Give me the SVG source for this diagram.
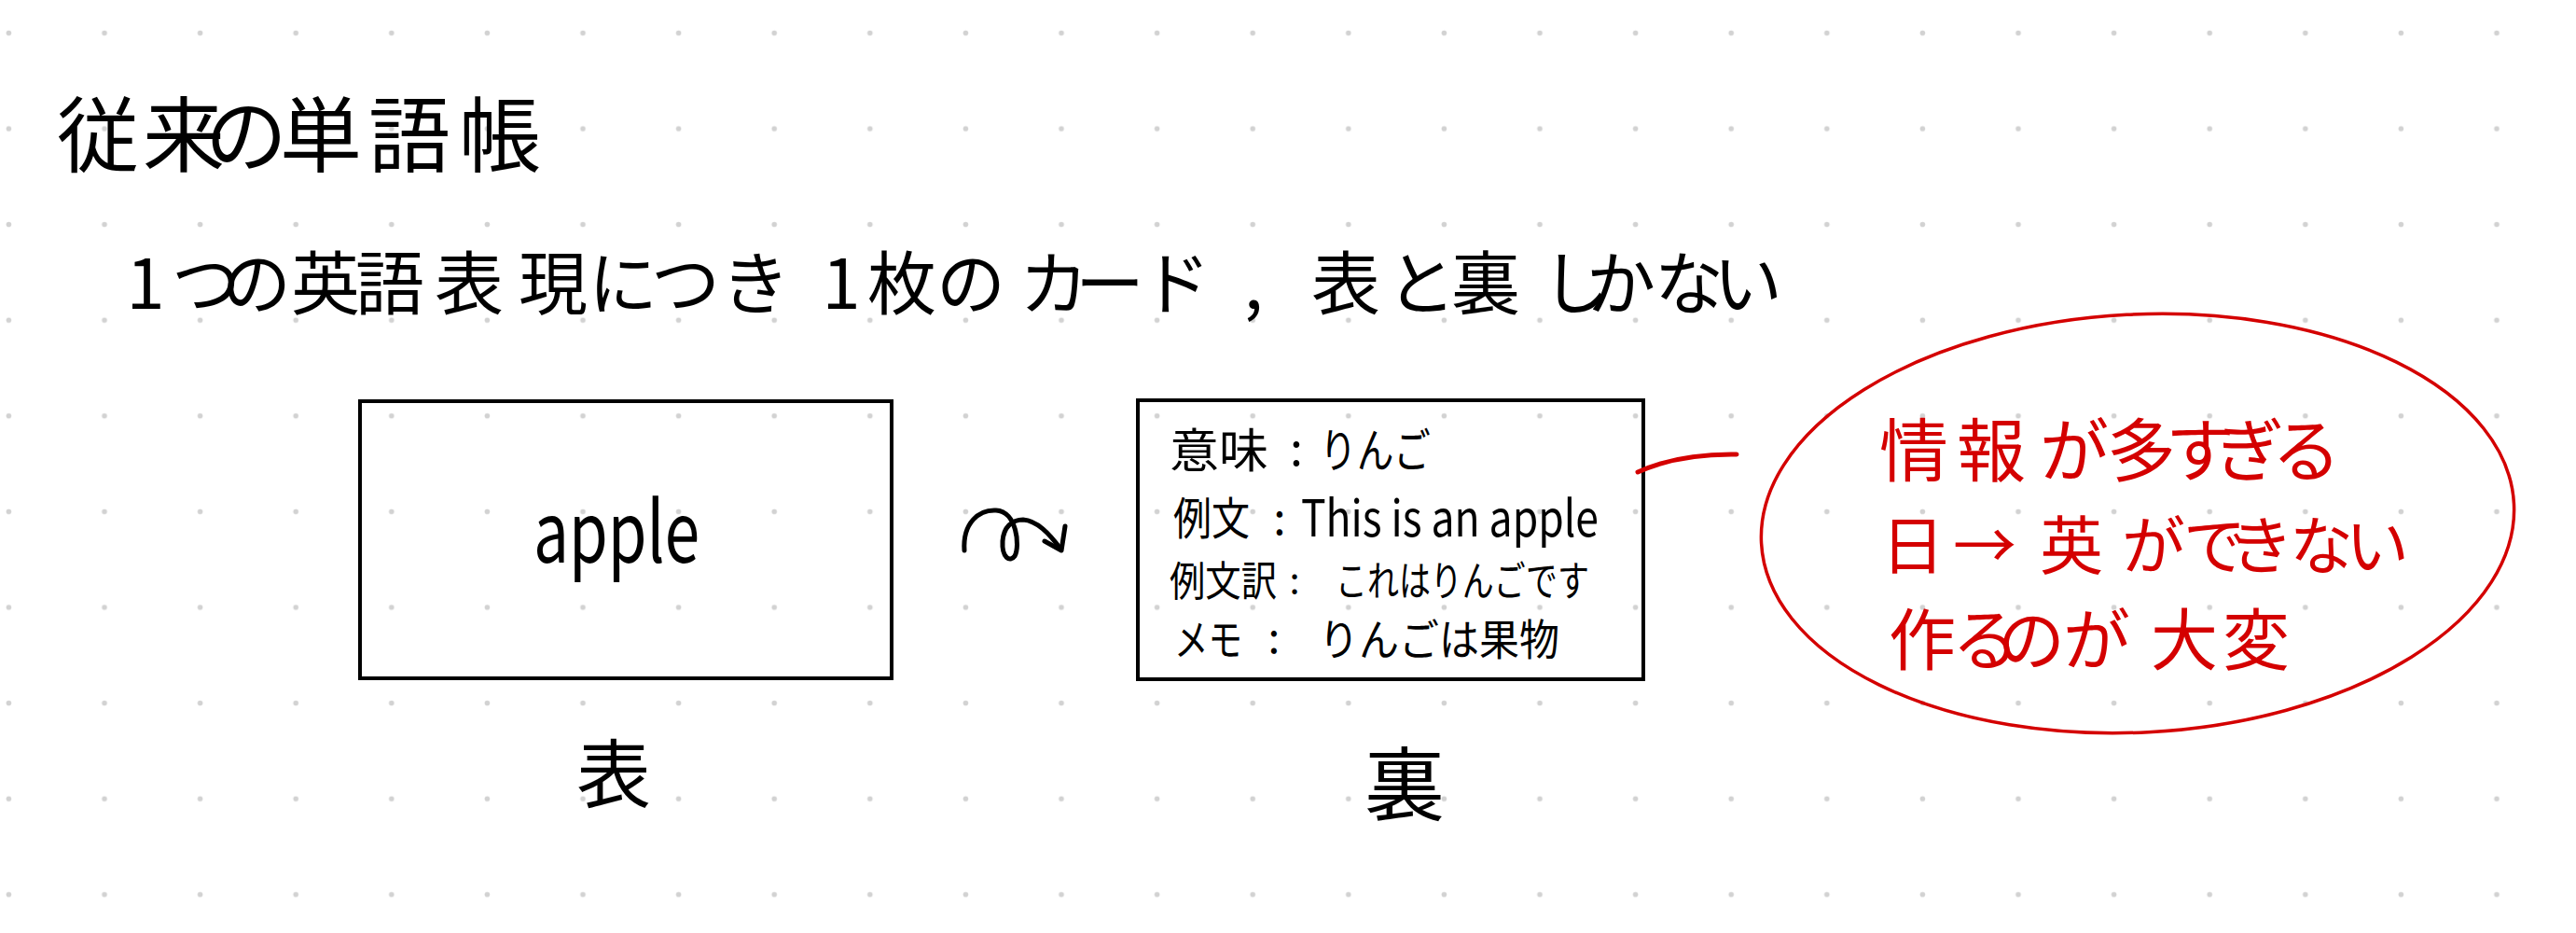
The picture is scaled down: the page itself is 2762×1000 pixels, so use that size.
<svg xmlns="http://www.w3.org/2000/svg" width="2762" height="1000" viewBox="0 0 2762 1000">
<defs>
<pattern id="dots" width="102.6" height="102.6" patternUnits="userSpaceOnUse">
<circle cx="9.4" cy="35.3" r="2.8" fill="#d2d2d2"/>
</pattern>
<style>
text{font-family:"Noto Sans CJK JP","Noto Sans",sans-serif;fill:#000;}
.c{text-anchor:middle;}
.red{fill:#d40000;}
.card{fill:none;stroke:#000;stroke-width:4;}
.ink{fill:none;stroke:#000;stroke-width:5;stroke-linecap:round;stroke-linejoin:round;}
.redink{fill:none;stroke:#d40000;stroke-linecap:round;stroke-linejoin:round;}
</style>
</defs>
<rect width="2762" height="1000" fill="#fff"/>
<rect width="2762" height="1000" fill="url(#dots)"/>

<g id="title">
<text class="c" font-size="88" x="105 197 264 344 439 536" y="177">従来の単語帳</text>
</g>

<g id="subtitle" font-size="74">
<text class="c" x="156 221 275 349 418 503 593 668 735 810" y="331">1つの英語表現につき</text>
<text class="c" x="902 967 1041" y="331">1枚の</text>
<text class="c" x="1130 1190 1261" y="331">カード</text>
<text class="c" x="1344" y="331">,</text>
<text class="c" x="1443 1524 1593" y="331">表と裏</text>
<text class="c" x="1690 1738 1811 1874" y="331">しかない</text>
</g>

<g id="card-front">
<rect class="card" x="386" y="430" width="570" height="297"/>
<text x="572" y="603" font-size="90" textLength="178" lengthAdjust="spacingAndGlyphs">apple</text>
</g>

<g id="label-front">
<text class="c" x="658" y="859" font-size="80">表</text>
</g>

<g id="card-back">
<rect class="card" x="1220" y="429" width="542" height="299"/>
<text font-size="50" x="1254" y="501" textLength="106" lengthAdjust="spacingAndGlyphs">意味</text>
<text class="c" font-size="50" x="1390" y="499">:</text>
<text font-size="50" x="1415" y="501" textLength="119" lengthAdjust="spacingAndGlyphs">りんご</text>
<text font-size="48" x="1258" y="573" textLength="82" lengthAdjust="spacingAndGlyphs">例文</text>
<text class="c" font-size="48" x="1372" y="573">:</text>
<text x="1395" y="575" font-size="54" textLength="319" lengthAdjust="spacingAndGlyphs">This is an apple</text>
<text font-size="44" x="1254" y="639" textLength="115" lengthAdjust="spacingAndGlyphs">例文訳</text>
<text class="c" font-size="40" x="1388" y="636">:</text>
<text font-size="44" x="1432" y="639" textLength="272" lengthAdjust="spacingAndGlyphs">これはりんごです</text>
<text font-size="46" x="1259" y="702" textLength="73" lengthAdjust="spacingAndGlyphs">メモ</text>
<text class="c" font-size="46" x="1366" y="700">:</text>
<text font-size="46" x="1414" y="702" textLength="258" lengthAdjust="spacingAndGlyphs">りんごは果物</text>
</g>

<g id="label-back">
<text class="c" x="1506" y="873" font-size="86">裏</text>
</g>

<g id="note">
<ellipse cx="2292" cy="561" rx="404" ry="224" transform="rotate(-3 2292 561)" class="redink" stroke-width="3.5"/>
<text class="c red" font-size="74" x="2052 2135 2224 2296 2359 2412 2473" y="510">情報が多すぎる</text>
<text class="c red" font-size="68" x="2051 2128 2221 2309 2375 2425 2489 2549" y="610">日→英ができない</text>
<text class="c red" font-size="72" x="2061 2129 2178 2248 2342 2419" y="712">作るのが大変</text>
</g>

<g id="connectors">
<path class="ink" d="M1034,590 C1032,560 1050,546 1068,547 C1090,548 1094,585 1088,596 C1083,603 1074,598 1075,580 C1076,565 1085,557 1097,557 C1112,558 1125,572 1137,588"/>
<path class="ink" d="M1120,580 L1138,590 L1142,564"/>
<path class="redink" stroke-width="5" d="M1756,506 Q1800,486 1862,487"/>
</g>
</svg>
